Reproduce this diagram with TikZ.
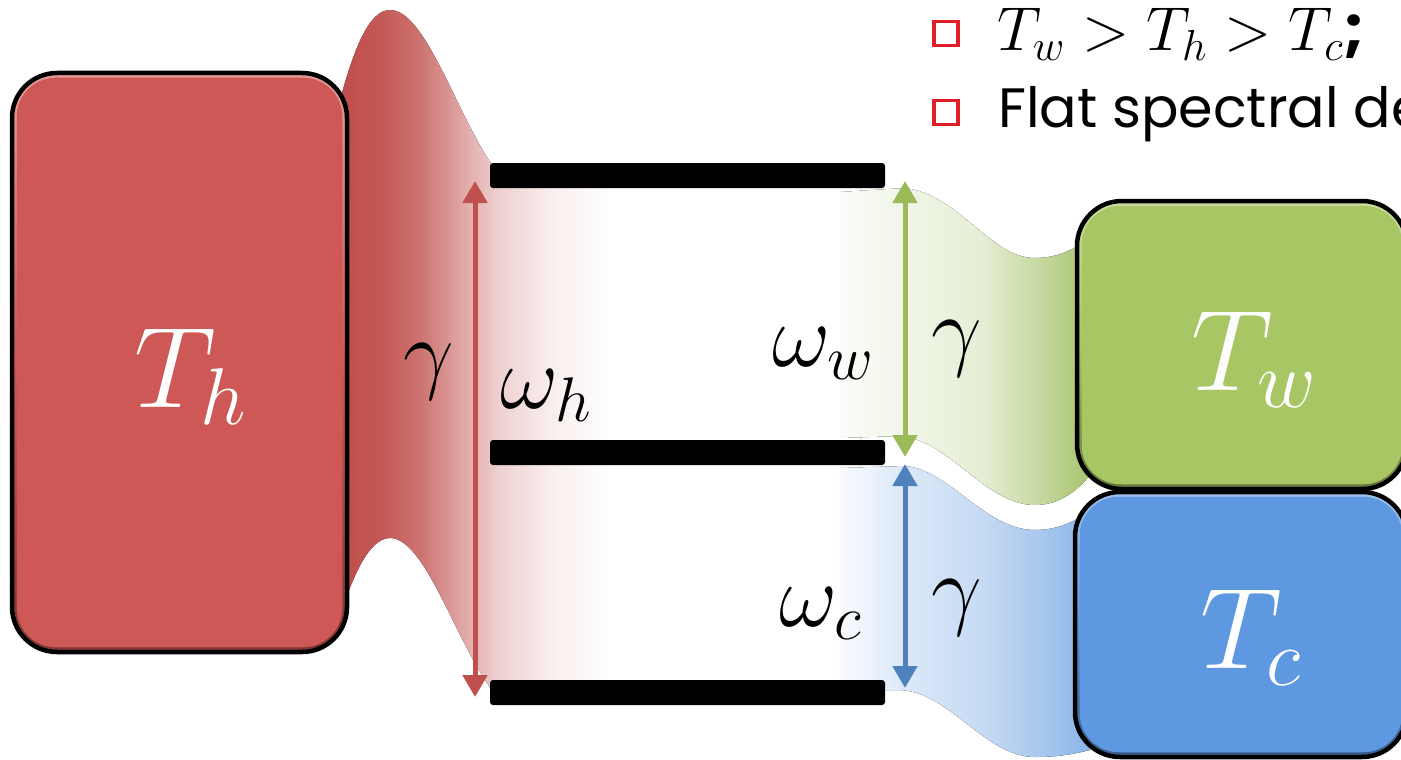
\RequirePackage{fix-cm}
\documentclass[tikz,border=0pt]{standalone}
\usepackage{fontspec}
\newfontfamily\popp{Poppins}
\usetikzlibrary{arrows.meta}
\definecolor{boxred}{RGB}{205,88,85}
\definecolor{boxgreen}{RGB}{168,198,100}
\definecolor{boxblue}{RGB}{93,152,224}
\definecolor{arred}{RGB}{192,80,77}
\definecolor{argreen}{RGB}{155,187,89}
\definecolor{arblue}{RGB}{79,129,189}
\definecolor{sqred}{RGB}{225,30,40}
\pgfdeclarehorizontalshading{redfan}{100bp}{color(0bp)=(arred); color(26bp)=(arred); color(28.8bp)=(arred!95!white); color(32.7bp)=(arred!80!white); color(37.5bp)=(arred!45!white); color(40.4bp)=(arred!26!white); color(45.2bp)=(arred!10!white); color(51bp)=(white); color(100bp)=(white)}
\pgfdeclarehorizontalshading{greenfan}{100bp}{color(0bp)=(white); color(25bp)=(argreen!4!white); color(38bp)=(argreen!14!white); color(53bp)=(argreen!25!white); color(66bp)=(argreen!60!white); color(75bp)=(argreen!88!white); color(100bp)=(argreen!88!white)}
\pgfdeclarehorizontalshading{bluefan}{100bp}{color(0bp)=(white); color(25bp)=(boxblue!4!white); color(38bp)=(boxblue!22!white); color(53bp)=(boxblue!35!white); color(66bp)=(boxblue!55!white); color(75bp)=(boxblue!72!white); color(100bp)=(boxblue!72!white)}
\tikzset{
  tbox/.style={draw=black, line width=4.5pt, rounded corners=45pt, inner sep=0pt},
  lvl/.style={fill=black, rounded corners=3pt, minimum width=395pt, minimum height=25pt, inner sep=0pt},
  dbl/.style={line width=5pt, {Triangle[width=24pt,length=22pt]}-{Triangle[width=24pt,length=22pt]}},
  big/.style={text=white, anchor=base, inner sep=0pt, font=\fontsize{115}{115}\selectfont},
  lab/.style={text=black, font=\fontsize{90}{90}\selectfont, inner sep=0pt},
  sq/.style={draw=sqred, line width=3.5pt, minimum size=24pt, inner sep=0pt}
}
\begin{document}
\begin{tikzpicture}[x=1pt,y=-1pt]
\useasboundingbox (0,0) rectangle (1401,760);
\clip (0,0) rectangle (1401,760);
% fans
\fill[shading=redfan] (340,100) .. controls (355,45) and (370,10) .. (390,10) .. controls (425,10) and (455,110) .. (492,165) -- (860,165) -- (860,690) -- (492,690) .. controls (455,640) and (425,538) .. (390,538) .. controls (368,538) and (352,580) .. (340,615) -- cycle;
\fill[shading=greenfan] (840,192) -- (905,188) .. controls (960,195) and (990,258) .. (1035,258) .. controls (1060,258) and (1075,248) .. (1090,238) -- (1090,475) .. controls (1078,490) and (1060,505) .. (1035,505) .. controls (985,505) and (950,440) .. (900,436) -- (840,438) -- cycle;
\fill[shading=bluefan] (840,468) -- (905,466) .. controls (950,470) and (985,530) .. (1035,530) .. controls (1058,530) and (1072,522) .. (1090,512) -- (1090,750) .. controls (1070,755) and (1055,757) .. (1035,757) .. controls (985,757) and (950,692) .. (900,690) -- (840,690) -- cycle;
% boxes
\node[tbox, top color=boxred!60!white, bottom color=boxred!60!black, middle color=boxred, minimum width=335pt, minimum height=579pt] (th) at (179.5,362.5) {};
\fill[boxred, rounded corners=39pt] ([xshift=7pt,yshift=-7pt]th.north west) rectangle ([xshift=-7pt,yshift=7pt]th.south east);
\node[tbox, top color=boxgreen!60!white, bottom color=boxgreen!60!black, middle color=boxgreen, minimum width=330pt, minimum height=288pt] (tw) at (1242,345) {};
\fill[boxgreen, rounded corners=39pt] ([xshift=7pt,yshift=-7pt]tw.north west) rectangle ([xshift=-7pt,yshift=7pt]tw.south east);
\node[tbox, top color=boxblue!60!white, bottom color=boxblue!60!black, middle color=boxblue, minimum width=332pt, minimum height=265pt] (tc) at (1241,624.5) {};
\fill[boxblue, rounded corners=39pt] ([xshift=7pt,yshift=-7pt]tc.north west) rectangle ([xshift=-7pt,yshift=7pt]tc.south east);
\node[big] (thl) at (190,407) {$T_h$};
\node[big] (twl) at (1254,390) {$T_w$};
\node[big] (tcl) at (1251,668) {$T_c$};
% levels
\node[lvl] (l1) at (687.5,175.5) {};
\node[lvl] (l2) at (687.5,452.5) {};
\node[lvl] (l3) at (687.5,692.5) {};
% arrows
\coordinate (rt) at (475,181);
\coordinate (rb) at (475,697);
\coordinate (gt) at (905,181);
\coordinate (gb) at (905,457);
\coordinate (bt) at (905,464);
\coordinate (bb) at (905,688);
\draw[dbl, arred] (rt) -- (rb);
\draw[dbl, argreen] (gt) -- (gb);
\draw[dbl, arblue] (bt) -- (bb);
% labels
\node[lab] (g1) at (429,372) {$\gamma$};
\node[lab, anchor=base west] (wh) at (500,408) {$\omega_h$};
\node[lab] (g2) at (957,349) {$\gamma$};
\node[lab, anchor=base east] (ww) at (874,366) {$\omega_w$};
\node[lab] (g3) at (957,608) {$\gamma$};
\node[lab, anchor=base east] (wc) at (862,626) {$\omega_c$};
% legend
\node[sq] (b1) at (946,33.5) {};
\node[sq] (b2) at (946,112.5) {};
\node[anchor=base west, inner sep=0pt] (t1) at (997,51) {\fontsize{62}{62}\selectfont $T_w>T_h>T_c$\popp\bfseries ;};
\node[anchor=base west, inner sep=0pt] (t2) at (998,127) {\popp\fontsize{55.5}{55.5}\selectfont Flat spectral de};
\end{tikzpicture}
\end{document}
